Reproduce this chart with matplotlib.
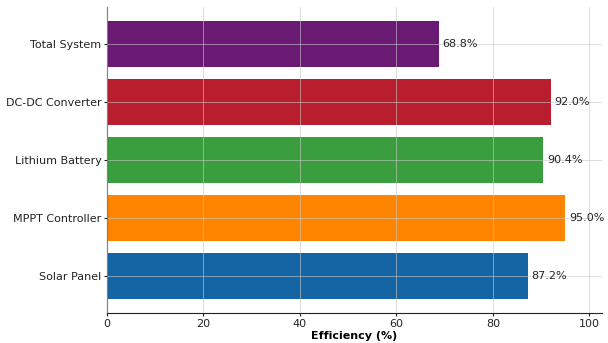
import matplotlib
matplotlib.use("Agg")
import matplotlib.pyplot as plt

# data
components = ["Solar Panel", "MPPT Controller", "Lithium Battery", "DC-DC Converter", "Total System"]
efficiency = [87.2, 95.0, 90.4, 92.0, 68.8]
colors = ["#1565a5", "#ff8500", "#3a9d3e", "#b81e2e", "#6b1a73"]

fig, ax = plt.subplots(figsize=(6.08, 3.43), dpi=100)
fig.subplots_adjust(left=0.176, right=0.99, top=0.98, bottom=0.087)

bars = ax.barh(components, efficiency, color=colors, height=0.8, zorder=2)
for b, v in zip(bars, efficiency):
    ax.text(b.get_width() + 0.8, b.get_y() + b.get_height() / 2, f"{v:.1f}%",
            va="center", ha="left", fontsize=8, color="#222222", zorder=3)

ax.set_xlim(0, max(efficiency) * 1.08)
ax.set_xticks([0, 20, 40, 60, 80, 100])
ax.grid(True, color="#c8c8c8", linewidth=0.7, alpha=0.6, zorder=2.5)
ax.set_axisbelow(False)
ax.set_xlabel("Efficiency (%)", fontsize=8, fontweight="bold", labelpad=2)
ax.tick_params(labelsize=8, length=2, pad=2, colors="#222222")
ax.spines["top"].set_visible(False)
ax.spines["right"].set_visible(False)
ax.spines["left"].set_color("#222222")
ax.spines["bottom"].set_color("#222222")

fig.savefig("out.png", dpi=100)
